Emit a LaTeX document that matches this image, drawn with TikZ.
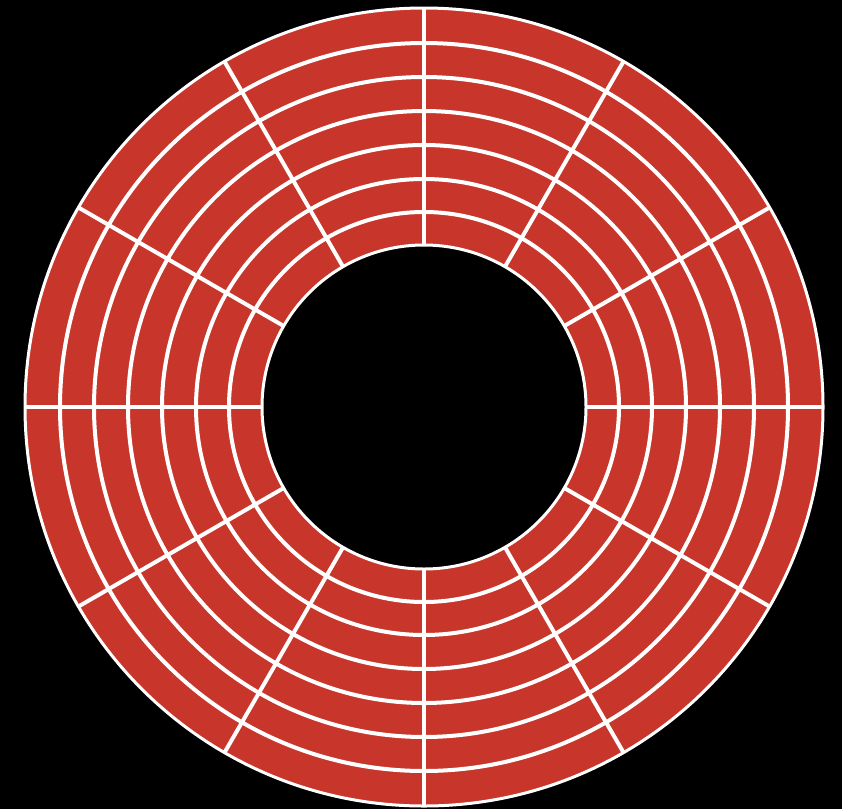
\documentclass[tikz,border=0pt]{standalone}
\usetikzlibrary{calc}
\definecolor{diskred}{RGB}{200,53,42}
\begin{document}
\begin{tikzpicture}[x=1pt,y=-1pt,
  track/.style={draw=white,line width=4pt},
  rim/.style={draw=white,line width=3pt}]
\fill[black] (0,0) rectangle (842,809);
\useasboundingbox (0,0) rectangle (842,809);
\coordinate (c) at (424,407);
\fill[diskred,even odd rule] (c) circle[radius=399] (c) circle[radius=162];
\foreach \r in {364,330,296,262,228,195} {
  \draw[track] (c) circle[radius=\r];
}
\foreach \a in {0,30,...,330} {
  \draw[track] ($(c)+(\a:162)$) -- ($(c)+(\a:399)$);
}
\draw[rim] (c) circle[radius=399];
\draw[rim] (c) circle[radius=162];
\end{tikzpicture}
\end{document}
